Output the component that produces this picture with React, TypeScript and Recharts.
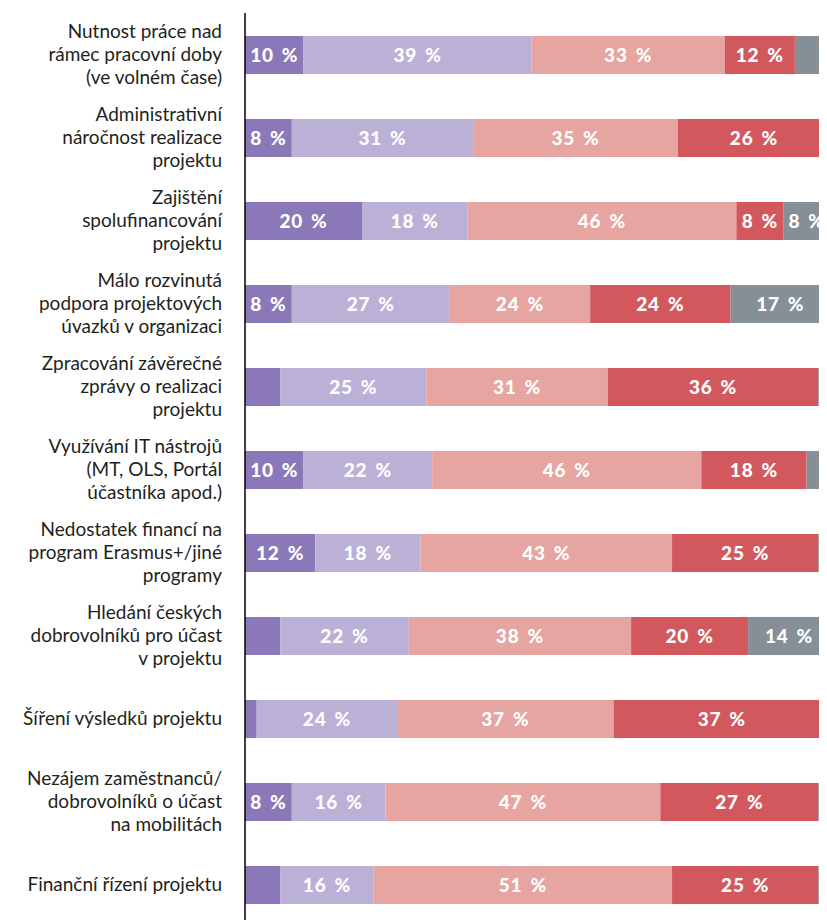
import React from 'react';
import { BarChart, Bar, XAxis, YAxis, LabelList } from 'recharts';

const categories = [
  'Nutnost práce nad\nrámec pracovní doby\n(ve volném čase)',
  'Administrativní\nnáročnost realizace\nprojektu',
  'Zajištění\nspolufinancování\nprojektu',
  'Málo rozvinutá\npodpora projektových\núvazků v organizaci',
  'Zpracování závěrečné\nzprávy o realizaci\nprojektu',
  'Využívání IT nástrojů\n(MT, OLS, Portál\núčastníka apod.)',
  'Nedostatek financí na\nprogram Erasmus+/jiné\nprogramy',
  'Hledání českých\ndobrovolníků pro účast\nv projektu',
  'Šíření výsledků projektu',
  'Nezájem zaměstnanců/\ndobrovolníků o účast\nna mobilitách',
  'Finanční řízení projektu',
];

const level1 = [10, 8, 20, 8, 6, 10, 12, 6, 2, 8, 6];
const level2 = [39, 31, 18, 27, 25, 22, 18, 22, 24, 16, 16];
const level3 = [33, 35, 46, 24, 31, 46, 43, 38, 37, 47, 51];
const level4 = [12, 26, 8, 24, 36, 18, 25, 20, 37, 27, 25];
const level5 = [6, 0, 8, 17, 2, 4, 2, 14, 0, 2, 2];

const colors = ['#8a78b8', '#bbb1d7', '#e6a5a0', '#d3585e', '#868f96'];
const keys = ['l1', 'l2', 'l3', 'l4', 'l5'];

const data = categories.map((name, i) => ({
  name,
  l1: level1[i],
  l2: level2[i],
  l3: level3[i],
  l4: level4[i],
  l5: level5[i],
}));

const FONT = 'Lato, sans-serif';

const CategoryTick = (props: any) => {
  const { x, y, payload } = props;
  const lines: string[] = String(payload.value).split('\n');
  const lh = 23;
  return (
    <g>
      {lines.map((l, i) => (
        <text
          key={i}
          x={x}
          y={y + (i - (lines.length - 1) / 2) * lh}
          dy="0.35em"
          textAnchor="end"
          fill="#231f20"
          fontSize={19}
          fontFamily={FONT}
        >
          {l}
        </text>
      ))}
    </g>
  );
};

const SegLabel = (props: any) => {
  const { x, y, width, height, value } = props;
  if (value == null || value < 8) return null;
  return (
    <text
      x={x + width / 2}
      y={y + height / 2}
      dy="0.35em"
      textAnchor="middle"
      fill="#ffffff"
      fontSize={19}
      fontWeight={900}
      letterSpacing={0.8}
      fontFamily={FONT}
    >
      {value}
      <tspan dx={8}>%</tspan>
    </text>
  );
};

const App = () => {
  return (
    <div>
      <style>{'body{overflow:hidden}'}</style>
      <BarChart
        width={822}
        height={918}
        data={data}
        layout="vertical"
        margin={{ top: 5, right: 0, bottom: 0, left: 0 }}
      >
        <XAxis type="number" domain={[0, 100]} hide allowDataOverflow />
        <YAxis
          type="category"
          dataKey="name"
          width={237}
          tickLine={false}
          tickMargin={17}
          axisLine={{ stroke: '#000', strokeWidth: 1.5 }}
          tick={<CategoryTick />}
          interval={0}
        />
        {keys.map((k, i) => (
          <Bar key={k} dataKey={k} stackId="a" fill={colors[i]} barSize={38} isAnimationActive={false}>
            <LabelList dataKey={k} content={<SegLabel />} />
          </Bar>
        ))}
      </BarChart>
    </div>
  );
};

export default App;
